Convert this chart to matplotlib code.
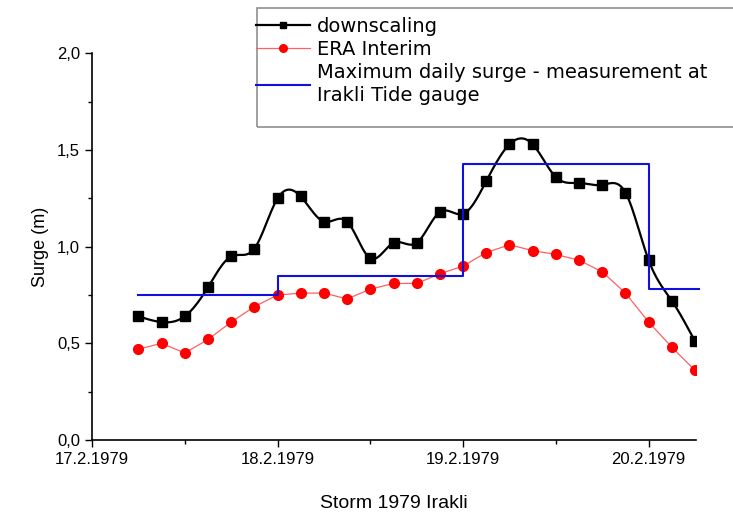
import numpy as np
import matplotlib
matplotlib.use("Agg")
import matplotlib.pyplot as plt
from matplotlib.ticker import MultipleLocator, FuncFormatter
from matplotlib.patches import Rectangle

plt.rcParams['font.family'] = ['Liberation Sans', 'DejaVu Sans']

# time in days after 17.2.1979 00:00, every 3 hours
t = np.arange(25) * 0.125 + 0.25

downscaling = [0.64, 0.61, 0.64, 0.79, 0.95, 0.99, 1.25, 1.26, 1.13, 1.13,
               0.94, 1.02, 1.02, 1.18, 1.17, 1.34, 1.53, 1.53, 1.36, 1.33,
               1.32, 1.28, 0.93, 0.72, 0.51]
era_interim = [0.47, 0.50, 0.45, 0.52, 0.61, 0.69, 0.75, 0.76, 0.76, 0.73,
               0.78, 0.81, 0.81, 0.86, 0.90, 0.97, 1.01, 0.98, 0.96, 0.93,
               0.87, 0.76, 0.61, 0.48, 0.36]

# daily maxima measured at the tide gauge
gauge_t = [0.25, 1.0, 2.0, 3.0, 3.27]
gauge_max = [0.75, 0.85, 1.43, 0.78, 0.78]

day_labels = ['17.2.1979', '18.2.1979', '19.2.1979', '20.2.1979']


def natural_spline(x, y, n=600):
    x = np.asarray(x, float)
    y = np.asarray(y, float)
    h = np.diff(x)
    m = len(x)
    A = np.zeros((m, m))
    b = np.zeros(m)
    A[0, 0] = A[-1, -1] = 1
    for i in range(1, m - 1):
        A[i, i - 1] = h[i - 1]
        A[i, i] = 2 * (h[i - 1] + h[i])
        A[i, i + 1] = h[i]
        b[i] = 6 * ((y[i + 1] - y[i]) / h[i] - (y[i] - y[i - 1]) / h[i - 1])
    M = np.linalg.solve(A, b)
    xs = np.linspace(x[0], x[-1], n)
    k = np.clip(np.searchsorted(x, xs) - 1, 0, m - 2)
    dx0 = xs - x[k]
    dx1 = x[k + 1] - xs
    hk = h[k]
    ys = (M[k] * dx1**3 + M[k + 1] * dx0**3) / (6 * hk) \
        + (y[k] / hk - M[k] * hk / 6) * dx1 + (y[k + 1] / hk - M[k + 1] * hk / 6) * dx0
    return xs, ys


fig = plt.figure(figsize=(7.33, 5.14), dpi=100)
ax = fig.add_axes([0.1255, 0.144, 0.824, 0.752])

xs, ys = natural_spline(t, downscaling)
ax.plot(xs, ys, color='black', lw=1.6)
ax.plot(t, downscaling, ls='none', marker='s', ms=7, color='black')
ax.plot(t, era_interim, color='#ff6060', lw=0.9, marker='o', ms=7,
        mfc='red', mec='red')
ax.step(gauge_t, gauge_max, where='post', color='#1010e0', lw=1.5,
        clip_on=False)

ax.set_xlim(0, 3.255)
ax.set_ylim(0, 2.0)
ax.set_xticks(range(4))
ax.set_xticklabels(day_labels)
ax.xaxis.set_minor_locator(MultipleLocator(0.5))
ax.yaxis.set_major_locator(MultipleLocator(0.5))
ax.yaxis.set_minor_locator(MultipleLocator(0.25))
ax.yaxis.set_major_formatter(FuncFormatter(lambda v, p: f"{v:.1f}".replace('.', ',')))
ax.tick_params(which='major', direction='out', length=5, width=1, labelsize=12)
ax.tick_params(which='minor', direction='out', length=3, width=1)
for s in ['top', 'right']:
    ax.spines[s].set_visible(False)
for s in ['left', 'bottom']:
    ax.spines[s].set_linewidth(1.2)

ax.set_ylabel('Surge (m)', fontsize=13, labelpad=6)
ax.set_xlabel('Storm 1979 Irakli', fontsize=14, labelpad=20)

handles = [
    plt.Line2D([], [], color='black', lw=1.6, marker='s', ms=5),
    plt.Line2D([], [], color='#ff6060', lw=0.9, marker='o', ms=5.5,
               mfc='red', mec='red'),
    plt.Line2D([], [], color='#1010e0', lw=1.5),
]
labels = ['downscaling', 'ERA Interim',
          'Maximum daily surge - measurement at\nIrakli Tide gauge']
leg = fig.legend(handles, labels, loc='upper left',
                 bbox_to_anchor=(256 / 733, 1 - 17 / 514), frameon=False,
                 prop={'family': 'DejaVu Sans', 'size': 14},
                 handlelength=2.8, handletextpad=0.35,
                 borderpad=0, borderaxespad=0, labelspacing=0.2)
for txt in leg.get_texts():
    txt.set_linespacing(1.3)

fig.patches.append(Rectangle((257 / 733, 1 - 127 / 514), 0.7, 119 / 514,
                             transform=fig.transFigure, fill=False,
                             edgecolor='#909090', lw=1.2))

fig.savefig('out.png', dpi=100)
